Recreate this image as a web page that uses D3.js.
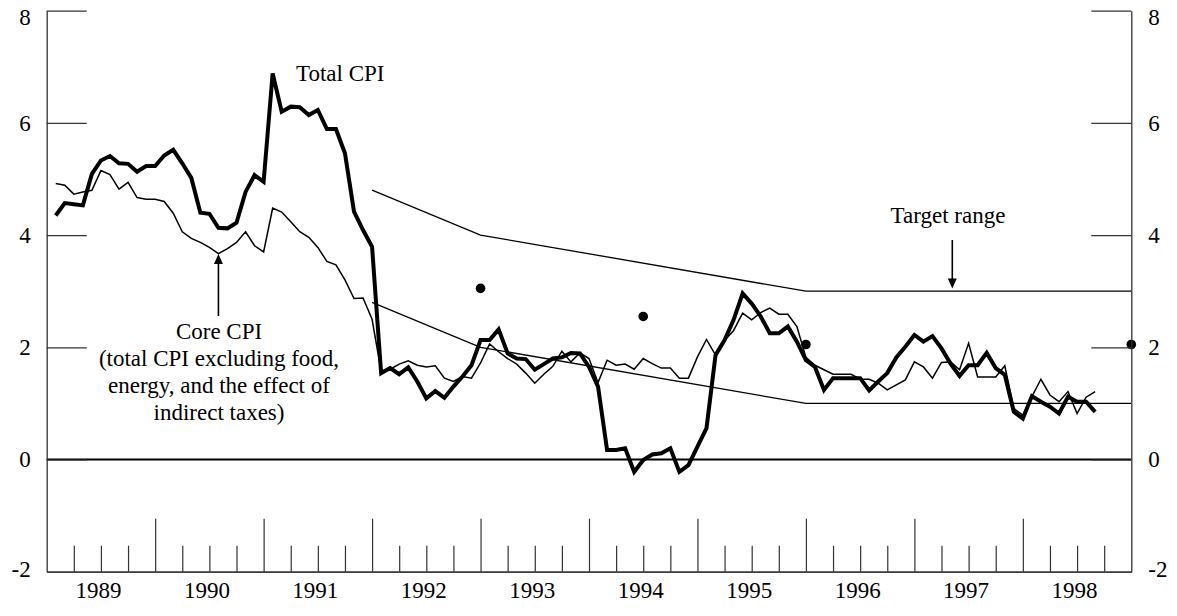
<!DOCTYPE html>
<html>
<head>
<meta charset="utf-8">
<script src="https://cdn.jsdelivr.net/npm/d3@7"></script>
<style>
  html, body { margin: 0; padding: 0; background: #fff; }
  svg text { font-family: "Liberation Serif", "Times New Roman", Times, "DejaVu Serif", serif; font-size: 23px; fill: #000; }
</style>
</head>
<body>
<svg id="chart" width="1177" height="616"></svg>
<script>
// ---- data ----
const startYear = 1989;            // first observation: January 1989 (plotted at month end)
const yearLabels = [1989, 1990, 1991, 1992, 1993, 1994, 1995, 1996, 1997, 1998];
const yTicks = [-2, 0, 2, 4, 6, 8];

const totalCPI = [
  4.35, 4.57, 4.55, 4.53, 5.09, 5.33, 5.41, 5.28, 5.27, 5.13, 5.23, 5.23,
  5.42, 5.52, 5.28, 5.02, 4.40, 4.38, 4.13, 4.12, 4.22, 4.77, 5.07, 4.95,
  6.88, 6.20, 6.29, 6.28, 6.14, 6.23, 5.89, 5.89, 5.46, 4.42, 4.09, 3.79,
  1.54, 1.63, 1.52, 1.64, 1.39, 1.09, 1.22, 1.10, 1.30, 1.48, 1.68, 2.13,
  2.13, 2.32, 1.89, 1.80, 1.79, 1.60, 1.70, 1.80, 1.82, 1.90, 1.89, 1.65,
  1.30, 0.17, 0.17, 0.20, -0.22, -0.01, 0.09, 0.11, 0.20, -0.22, -0.10, 0.23,
  0.56, 1.86, 2.13, 2.49, 2.96, 2.78, 2.55, 2.25, 2.25, 2.37, 2.10, 1.77,
  1.65, 1.24, 1.45, 1.45, 1.45, 1.45, 1.23, 1.39, 1.54, 1.82, 2.01, 2.22,
  2.10, 2.20, 1.98, 1.71, 1.49, 1.68, 1.68, 1.90, 1.63, 1.51, 0.85, 0.73,
  1.13, 1.03, 0.94, 0.82, 1.12, 1.03, 1.03, 0.85
];

const coreCPI = [
  4.92, 4.89, 4.73, 4.77, 4.80, 5.15, 5.08, 4.82, 4.94, 4.67, 4.64, 4.64,
  4.60, 4.39, 4.06, 3.94, 3.87, 3.78, 3.67, 3.76, 3.87, 4.06, 3.81, 3.70,
  4.48, 4.41, 4.24, 4.06, 3.96, 3.78, 3.53, 3.47, 3.20, 2.87, 2.88, 2.50,
  1.57, 1.61, 1.70, 1.76, 1.68, 1.65, 1.67, 1.45, 1.39, 1.48, 1.45, 1.72,
  2.06, 1.92, 1.80, 1.70, 1.54, 1.36, 1.52, 1.66, 1.93, 1.74, 1.90, 1.80,
  1.37, 1.77, 1.68, 1.70, 1.61, 1.80, 1.71, 1.63, 1.63, 1.45, 1.45, 1.83,
  2.14, 1.86, 2.12, 2.30, 2.61, 2.49, 2.62, 2.70, 2.59, 2.59, 2.37, 1.82,
  1.68, 1.60, 1.52, 1.52, 1.52, 1.43, 1.43, 1.36, 1.24, 1.33, 1.42, 1.74,
  1.65, 1.45, 1.73, 1.74, 1.60, 2.07, 1.47, 1.47, 1.47, 1.67, 0.91, 0.79,
  1.12, 1.43, 1.15, 1.03, 1.21, 0.82, 1.11, 1.21
];

const targetDates = [1992.0, 1993.0, 1996.0, 1999.0];
const targetUpper = [4.8, 4.0, 3.0, 3.0];
const targetLower = [2.8, 2.0, 1.0, 1.0];

const midDates = [1993.0, 1994.5, 1996.0, 1999.0];
const midValues = [3.05, 2.55, 2.05, 2.05];

(function draw() {
  const svg = d3.select("#chart");
  const pL = 46.7, pR = 1131.3, pT = 10.7, pB = 571.7;
  const FONT = "'Liberation Serif', 'Times New Roman', Times, 'DejaVu Serif', serif";

  const x = d3.scaleLinear().domain([1989, 1999]).range([pL, pR]);
  const y = d3.scaleLinear().domain([-2, 8]).range([pB, pT]);

  const monthPos = i => startYear + (i + 1) / 12;

  // zero line
  svg.append("line")
    .attr("x1", pL).attr("x2", pR)
    .attr("y1", y(0)).attr("y2", y(0))
    .attr("stroke", "#000").attr("stroke-width", 2);

  // target range lines
  const tline = d3.line().x(d => x(d[0])).y(d => y(d[1]));
  svg.append("path")
    .attr("d", tline(targetDates.map((d, i) => [d, targetUpper[i]])))
    .attr("fill", "none").attr("stroke", "#000").attr("stroke-width", 1.3);
  svg.append("path")
    .attr("d", tline(targetDates.map((d, i) => [d, targetLower[i]])))
    .attr("fill", "none").attr("stroke", "#000").attr("stroke-width", 1.3);

  // series lines
  const sline = d3.line().x((d, i) => x(monthPos(i))).y(d => y(d));
  svg.append("path")
    .attr("d", sline(coreCPI))
    .attr("fill", "none").attr("stroke", "#000").attr("stroke-width", 1.5);
  svg.append("path")
    .attr("d", sline(totalCPI))
    .attr("fill", "none").attr("stroke", "#000").attr("stroke-width", 4);

  // midpoint dots
  svg.selectAll("circle.mid")
    .data(midDates.map((d, i) => [d, midValues[i]]))
    .join("circle")
    .attr("class", "mid")
    .attr("cx", d => x(d[0])).attr("cy", d => y(d[1]))
    .attr("r", 4.8).attr("fill", "#000");

  // ---- axes ----
  const axisColor = "#333";
  function styleAxis(g) {
    g.selectAll("path.domain").attr("stroke", axisColor).attr("stroke-width", 1.3);
    g.selectAll(".tick line").attr("stroke", axisColor).attr("stroke-width", 1.2);
    g.selectAll("text")
      .attr("font-family", FONT)
      .attr("font-size", 23).attr("fill", "#000");
  }
  const fmtY = d => String(d);   // plain hyphen-minus as in the original

  const yLeft = svg.append("g").attr("transform", `translate(${pL},0)`)
    .call(d3.axisLeft(y).tickValues(yTicks).tickFormat(fmtY)
      .tickSizeInner(-40).tickSizeOuter(0).tickPadding(16))
    .call(styleAxis);
  const yRight = svg.append("g").attr("transform", `translate(${pR},0)`)
    .call(d3.axisRight(y).tickValues(yTicks).tickFormat(fmtY)
      .tickSizeInner(-40).tickSizeOuter(0).tickPadding(17))
    .call(styleAxis);
  [yLeft, yRight].forEach(g => {
    g.selectAll(".tick").filter(d => d === 8).select("text").attr("dy", "0.62em");
    g.selectAll(".tick").filter(d => d === -2).select("text").attr("dy", "0.23em");
    g.selectAll(".tick").filter(d => d === -2).select("line").remove();
  });

  // bottom axis: year boundaries (long) and quarter boundaries (short)
  const yearBounds = yearLabels.slice(1);
  const quarterBounds = [];
  yearLabels.forEach(yr => [0.25, 0.5, 0.75].forEach(q => quarterBounds.push(yr + q)));

  svg.append("g").attr("transform", `translate(0,${pB})`)
    .call(d3.axisBottom(x).tickValues(yearBounds).tickFormat("")
      .tickSizeInner(-53).tickSizeOuter(0))
    .call(styleAxis);
  svg.append("g").attr("transform", `translate(0,${pB})`)
    .call(d3.axisBottom(x).tickValues(quarterBounds).tickFormat("")
      .tickSizeInner(-26).tickSizeOuter(0))
    .call(styleAxis);
  const xLab = svg.append("g").attr("transform", `translate(-3,${pB})`)
    .call(d3.axisBottom(x).tickValues(yearLabels.map(yr => yr + 0.5))
      .tickFormat(d => String(Math.floor(d)))
      .tickSize(0).tickPadding(10))
    .call(styleAxis);
  xLab.select("path.domain").remove();

  // ---- annotations ----
  svg.append("text").attr("x", 296).attr("y", 81).attr("font-family", FONT).text("Total CPI");

  svg.append("text").attr("x", 948).attr("y", 223).attr("text-anchor", "middle")
    .attr("font-family", FONT).text("Target range");

  const coreLines = ["Core CPI", "(total CPI excluding food,", "energy, and the effect of", "indirect taxes)"];
  svg.append("text").attr("text-anchor", "middle").attr("font-family", FONT)
    .selectAll("tspan").data(coreLines).join("tspan")
    .attr("x", 219).attr("y", (d, i) => 339 + i * 27).text(d => d);

  // arrows
  function arrow(x0, yStart, yTip, dir, w, len) {
    svg.append("line").attr("x1", x0).attr("x2", x0)
      .attr("y1", yStart).attr("y2", yTip - dir * len * 0.6)
      .attr("stroke", "#000").attr("stroke-width", 1.6);
    svg.append("path")
      .attr("d", `M${x0},${yTip} L${x0 - w / 2},${yTip - dir * len} L${x0 + w / 2},${yTip - dir * len} Z`)
      .attr("fill", "#000");
  }
  arrow(x(monthPos(18)), 316, y(coreCPI[18]) + 0.5, -1, 9, 10);
  arrow(952.3, 240, 288.5, 1, 9, 10);
})();
</script>
</body>
</html>
